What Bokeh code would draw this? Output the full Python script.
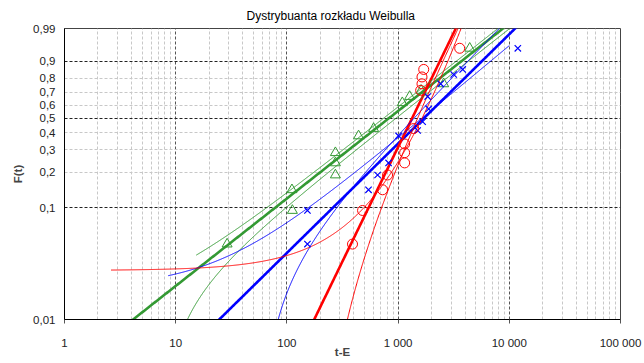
import numpy as np
from bokeh.plotting import figure
from bokeh.models import FixedTicker, Range1d, Title
from bokeh.embed import file_html
from bokeh.resources import INLINE


def wt(F):
    F = np.clip(np.asarray(F, dtype=float), 1e-9, 1 - 1e-12)
    return np.log(-np.log(1.0 - F))


# ---------------- data ----------------
green_t = [29, 111, 112, 273, 273, 273, 441, 602, 1091, 1270, 1611, 2570, 4406]
green_F = [0.048, 0.143, 0.095, 0.286, 0.238, 0.190, 0.381, 0.429, 0.619, 0.667, 0.714, 0.762, 0.952]

blue_t = [153, 153, 542, 654, 821, 1011, 1499, 1662, 1884, 1845, 2415, 3162, 3811, 11930]
blue_F = [0.095, 0.048, 0.143, 0.190, 0.238, 0.381, 0.416, 0.476, 0.571, 0.667, 0.762, 0.826, 0.857, 0.952]

red_t = [389, 479, 725, 804, 1145, 1145, 1145, 1380, 1596, 1640, 1640, 1700, 3580]
red_F = [0.048, 0.095, 0.143, 0.190, 0.238, 0.286, 0.333, 0.429, 0.714, 0.762, 0.810, 0.857, 0.952]

# fitted 2-parameter Weibull lines (beta, eta)
green_fit = (0.80, 1300.0)
blue_fit = (1.00, 2450.0)
red_fit = (2.09, 1590.0)

# thin 3-parameter curves: (beta, eta, gamma, t_start, t_end)
green_curves = [(0.80, 1172.0, -5.0, 15.3, 10000.0), (0.80, 1494.0, 8.0, 15.3, 10000.0)]
blue_curves = [(0.85, 2540.0, -25.0, 8.56, 10000.0), (1.05, 1880.0, 60.0, 60.0, 10000.0)]
red_curves = [(3.3, 2948.0, -1000.0, 2.62, 10000.0), (2.07, 1569.0, 180.0, 180.0, 10000.0)]

x_ticks = [1, 10, 100, 1000, 10000, 100000]
x_labels = ["1", "10", "100", "1 000", "10 000", "100 000"]
y_ticks = [0.01, 0.1, 0.2, 0.3, 0.4, 0.5, 0.6, 0.7, 0.8, 0.9, 0.99]
y_labels = ["0,01", "0,1", "0,2", "0,3", "0,4", "0,5", "0,6", "0,7", "0,8", "0,9", "0,99"]
y_major_grid = [0.1, 0.5, 0.9]
y_minor_grid = [0.2, 0.3, 0.4, 0.6, 0.7, 0.8]

GREEN = "#339933"
BLUE = "#0000FF"
RED = "#FF0000"
FONT = "Liberation Sans"

p = figure(width=644, height=363, x_axis_type="log",
           x_range=Range1d(1, 100000), y_range=Range1d(wt(0.01), wt(0.99)),
           output_backend="svg", toolbar_location=None,
           min_border_left=64, min_border_right=24, min_border_top=28, min_border_bottom=44)
p.title = Title(text="Dystrybuanta rozkładu Weibulla", align="left", offset=182,
                text_font=FONT, text_font_size="12px", text_font_style="normal",
                text_color="#000000", standoff=12)
p.background_fill_color = "white"
p.border_fill_color = "white"
p.outline_line_color = "#444444"
p.outline_line_width = 1

# axes
p.xaxis.ticker = FixedTicker(ticks=x_ticks, minor_ticks=[])
p.xaxis.major_label_overrides = {float(v): s for v, s in zip(x_ticks, x_labels)}
p.xaxis.axis_label = "t-E"
p.yaxis.ticker = FixedTicker(ticks=list(wt(y_ticks)), minor_ticks=[])
p.yaxis.major_label_overrides = {float(v): s for v, s in zip(wt(y_ticks), y_labels)}
p.yaxis.axis_label = "F(t)"
for ax in (p.xaxis[0], p.yaxis[0]):
    ax.axis_line_color = "black"
    ax.axis_line_width = 1
    ax.major_label_text_font = FONT
    ax.major_label_text_font_size = "11.5px"
    ax.major_label_text_color = "#222222"
    ax.axis_label_text_font = FONT
    ax.axis_label_text_font_size = "11.5px"
    ax.axis_label_text_font_style = "bold"
    ax.minor_tick_line_color = None
p.xaxis.major_tick_out = 4
p.xaxis.major_tick_in = 0
p.xaxis.major_tick_line_color = "#555555"
p.xaxis.major_label_standoff = 13
p.xaxis.axis_label_standoff = -6
p.yaxis.major_tick_out = 0
p.yaxis.major_tick_in = 0
p.yaxis.major_tick_line_color = None
p.yaxis.major_label_standoff = 9
p.yaxis.axis_label_standoff = 6

# grids
p.xgrid.ticker = FixedTicker(ticks=[10, 100, 1000, 10000],
                             minor_ticks=[m * d for d in (1, 10, 100, 1000, 10000) for m in range(2, 10)])
p.xgrid.grid_line_color = "#555555"
p.xgrid.grid_line_dash = "3 2"
p.xgrid.grid_line_width = 1
p.xgrid.minor_grid_line_color = "#c8c8c8"
p.xgrid.minor_grid_line_dash = "3 2"
p.ygrid.ticker = FixedTicker(ticks=list(wt(y_major_grid)), minor_ticks=list(wt(y_minor_grid)))
p.ygrid.grid_line_color = "#222222"
p.ygrid.grid_line_dash = "3 2"
p.ygrid.minor_grid_line_color = "#c8c8c8"
p.ygrid.minor_grid_line_dash = "3 2"


def weib(t, beta, eta, gamma=0.0):
    t = np.asarray(t, dtype=float)
    u = np.clip((t - gamma) / eta, 1e-12, None)
    return 1.0 - np.exp(-u ** beta)


tt = np.logspace(0, 5, 600)
for (beta, eta), col in ((green_fit, GREEN), (blue_fit, BLUE), (red_fit, RED)):
    p.line(tt, wt(weib(tt, beta, eta)), line_color=col, line_width=2.6)

for curves, col in ((green_curves, GREEN), (blue_curves, BLUE), (red_curves, RED)):
    for beta, eta, gamma, t0, t1 in curves:
        if gamma > 0:
            ts = gamma + np.logspace(-2, np.log10(t1 - gamma), 1200)
        else:
            ts = np.logspace(np.log10(t0), np.log10(t1), 800)
        p.line(ts, wt(weib(ts, beta, eta, gamma)), line_color=col, line_width=1)

p.scatter(green_t, wt(green_F), marker="triangle", size=10, line_color=GREEN,
          fill_color=None, line_width=1)
p.scatter(blue_t, wt(blue_F), marker="x", size=9, line_color=BLUE, line_width=1.2)
p.scatter(red_t, wt(red_F), marker="circle", size=10, line_color=RED,
          fill_color=None, line_width=1)

open("out.html", "w").write(file_html(p, INLINE))
